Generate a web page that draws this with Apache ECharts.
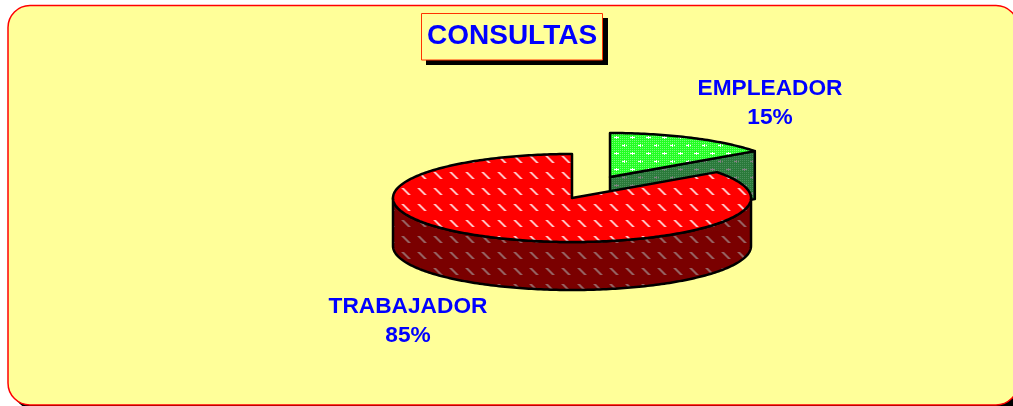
<!DOCTYPE html>
<html>
<head>
<meta charset="utf-8">
<title>CONSULTAS</title>
<style>
html,body{margin:0;padding:0;background:#fff;}
#chart{width:1013px;height:406px;}
</style>
<script src="https://cdn.jsdelivr.net/npm/echarts@6/dist/echarts.min.js"></script>
</head>
<body>
<div id="chart"></div>
<script>
var chartTitle = 'CONSULTAS';
var categories = ['EMPLEADOR', 'TRABAJADOR'];
var shares = [15, 85];

var total = shares[0] + shares[1];
var radiusX = 179, radiusY = 44, depth = 48;
// centro de cada sector (el verde esta separado del resto)
var centers = [[610, 177], [572, 198]];
var labelPos = [[770, 103], [408, 321]];

// trama de relleno, celda de 16x16
function redTile(base, light, soft) {
	var c = document.createElement('canvas');
	c.width = 16; c.height = 16;
	var ctx = c.getContext('2d');
	ctx.fillStyle = base;
	ctx.fillRect(0, 0, 16, 16);
	for (var i = 0; i < 7; i++) {
		ctx.fillStyle = soft;
		ctx.fillRect((4 + i) % 16, (12 + i) % 16, 1, 1);
		ctx.fillRect((1 + i) % 16, (12 + i) % 16, 1, 1);
		ctx.fillStyle = light;
		ctx.fillRect((2 + i) % 16, (12 + i) % 16, 2, 1);
	}
	return c;
}

function greenTile(base, check, plus) {
	var c = document.createElement('canvas');
	c.width = 16; c.height = 16;
	var ctx = c.getContext('2d');
	ctx.fillStyle = base;
	ctx.fillRect(0, 0, 16, 16);
	ctx.fillStyle = check;
	for (var y = 0; y < 16; y += 2) {
		for (var x = 0; x < 16; x += 2) {
			ctx.fillRect(x, y, 1, 1);
		}
	}
	ctx.fillStyle = plus;
	var spots = [[0, 1], [8, 9]];
	for (var s = 0; s < 2; s++) {
		var px = spots[s][0], py = spots[s][1];
		ctx.fillRect((px + 15) % 16, py, 3, 1);
		ctx.fillRect(px, (py + 15) % 16, 1, 3);
		ctx.fillRect((px + 14) % 16, py, 1, 1);
		ctx.fillRect((px + 2) % 16, py, 1, 1);
	}
	return c;
}

var topFills = [
	{image: greenTile('#22FF22', '#77FF77', '#FFFFFF'), repeat: 'repeat'},
	{image: redTile('#FF0000', '#FFC0C0', '#FF5050'), repeat: 'repeat'}
];
var sideFills = [
	{image: greenTile('#2A7A3A', '#4A8F5A', '#808080'), repeat: 'repeat'},
	{image: redTile('#7A0000', '#966060', '#843030'), repeat: 'repeat'}
];

function pointAt(center, deg, drop) {
	var t = deg * Math.PI / 180;
	return [center[0] + radiusX * Math.sin(t), center[1] - radiusY * Math.cos(t) + (drop || 0)];
}

function withFill(fill) {
	return {fill: fill, stroke: '#000', lineWidth: 2.5, lineJoin: 'round'};
}

function renderSlice(params, api) {
	var idx = params.dataIndex;
	var center = centers[idx];
	var before = 0;
	for (var i = 0; i < idx; i++) {
		before += shares[i];
	}
	var a0 = before / total * 360;
	var a1 = (before + api.value(0)) / total * 360;
	var children = [];

	// cara del corte, solo se ve si el sector termina por delante
	if (a1 < 90) {
		var end = pointAt(center, a1);
		children.push({
			type: 'polygon',
			shape: {points: [center, end, [end[0], end[1] + depth], [center[0], center[1] + depth]]},
			style: withFill(sideFills[idx])
		});
	}

	// pared exterior
	var w0 = Math.max(a0, 90), w1 = Math.min(a1, 270);
	if (w1 > w0) {
		var wall = [];
		for (var d = w0; d <= w1; d += 1) {
			wall.push(pointAt(center, d));
		}
		for (var e = w1; e >= w0; e -= 1) {
			wall.push(pointAt(center, e, depth));
		}
		children.push({type: 'polygon', shape: {points: wall}, style: withFill(sideFills[idx])});
	}

	// cara superior
	var face = [center];
	for (var f = a0; f < a1; f += 1) {
		face.push(pointAt(center, f));
	}
	face.push(pointAt(center, a1));
	children.push({type: 'polygon', shape: {points: face}, style: withFill(topFills[idx])});

	children.push({
		type: 'text',
		style: {
			x: labelPos[idx][0],
			y: labelPos[idx][1],
			text: categories[idx] + '\n' + api.value(0) + '%',
			align: 'center',
			verticalAlign: 'middle',
			lineHeight: 29.5,
			fill: '#0000FF',
			font: 'bold 22.7px "Liberation Sans", Arial, sans-serif'
		}
	});
	return {type: 'group', children: children};
}

var myChart = echarts.init(document.getElementById('chart'), null, {renderer: 'canvas'});
var option = {
	animation: false,
	backgroundColor: '#FFFFFF',
	title: {
		text: chartTitle,
		left: 427,
		top: 22,
		padding: 0,
		z: 10,
		textStyle: {
			color: '#0000FF',
			fontSize: 28,
			fontWeight: 'bold',
			fontFamily: '"Liberation Sans", Arial, sans-serif'
		}
	},
	graphic: [
		{type: 'rect', z: 0, shape: {x: 13, y: 10.5, width: 1010, height: 399.5, r: 22}, style: {fill: '#000'}},
		{type: 'rect', z: 1, shape: {x: 8, y: 5.5, width: 1010, height: 399.5, r: 22}, style: {fill: '#FFFF99', stroke: '#FF0000', lineWidth: 1.5}},
		{type: 'rect', z: 2, shape: {x: 426, y: 18, width: 182, height: 47}, style: {fill: '#000'}},
		{type: 'rect', z: 3, shape: {x: 421.5, y: 13.5, width: 181, height: 46.5}, style: {fill: '#FFFF99', stroke: '#FF3300', lineWidth: 1}}
	],
	series: [{
		type: 'custom',
		coordinateSystem: 'none',
		silent: true,
		renderItem: renderSlice,
		data: shares.map(function (v) { return [v]; })
	}]
};
myChart.setOption(option);
</script>
</body>
</html>
